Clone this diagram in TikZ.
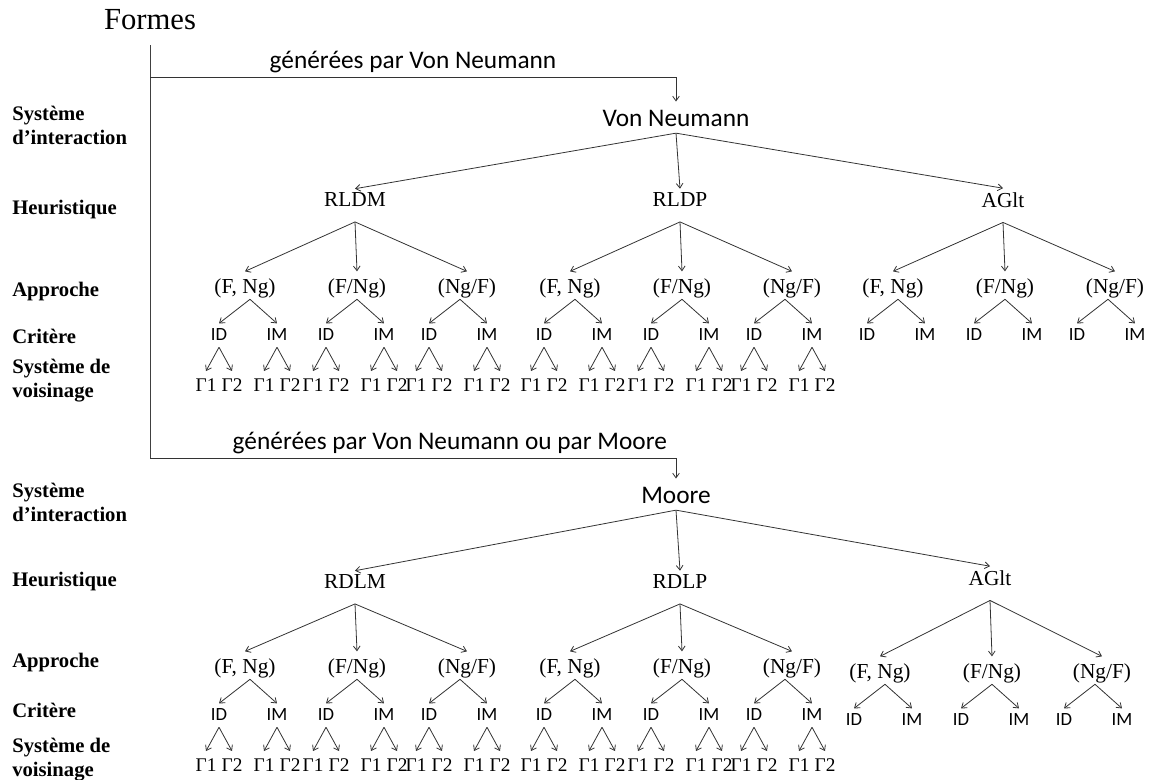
\documentclass[tikz,border=0pt]{standalone}
\usepackage{fontspec}
\setmainfont{Liberation Serif}
\newfontfamily\calibri{Carlito}
\usetikzlibrary{arrows.meta, positioning}

% une heuristique et tout son sous-arbre
% #1 nom, #2 racine, #3 x, #4 y, #5 texte, #6 avec Gamma (1/0), #7 y des approches
\newcommand{\branche}[7]{%
  \node[heur] (#1) at (#3,#4) {#5};
  \draw[arr] ([yshift=-4pt]#2.south) -- ([yshift=2pt]#1.north);
  \foreach \j/\ax/\an/\dx in {1/-110/{(F, Ng)}/5, 2/2/{(F/Ng)}/0, 3/112/{(Ng/F)}/-7}{
    \node[appr] (#1-\j) at ({#3+\ax},#7) {\an};
    \draw[arr] ([yshift=-10pt]#1.south) -- ([yshift=4pt]#1-\j.north);
    \foreach \k/\cx/\cn in {1/-31/ID, 2/27/IM}{
      \node[crit] (#1-\j-\k) at ({#3+\ax+\dx+\cx},{#7+47}) {\cn};
      \draw[arr] ([xshift=\dx*0.75pt]#1-\j.south) -- ([yshift=3pt]#1-\j-\k.north);
      \ifnum#6=1\relax
        \node[gam] (#1-\j-\k-g1) at ({#3+\ax+\dx+\cx-13},{#7+97}) {Γ1};
        \node[gam] (#1-\j-\k-g2) at ({#3+\ax+\dx+\cx+13},{#7+97}) {Γ2};
        \draw[arr] ([yshift=-3.5pt]#1-\j-\k.south) -- ([yshift=4.5pt]#1-\j-\k-g1.north);
        \draw[arr] ([yshift=-3.5pt]#1-\j-\k.south) -- ([yshift=4.5pt]#1-\j-\k-g2.north);
      \fi
    }
  }
}

\begin{document}
\begin{tikzpicture}[x=0.75pt, y=-0.75pt,
    arr/.style={draw=black!80, line width=0.6pt, -{Straight Barb[length=3.5pt,width=5pt]}},
    tronc/.style={draw=black!75, line width=0.7pt},
    titre/.style={font=\fontsize{23}{27}\selectfont, inner sep=2pt},
    niveau/.style={anchor=west, align=left, inner sep=0pt, font=\bfseries\fontsize{15.5}{18}\selectfont},
    voisin/.style={font=\calibri\fontsize{19}{22}\selectfont, inner sep=1pt},
    heur/.style={font=\fontsize{16}{18}\selectfont, inner sep=1pt},
    appr/.style={font=\fontsize{16}{18}\selectfont, inner sep=1pt},
    crit/.style={font=\calibri\fontsize{14}{16}\selectfont, inner sep=1pt},
    gam/.style={font=\fontsize{14.5}{16}\selectfont, inner sep=1pt}
]
\useasboundingbox (0,0) rectangle (1154,780);

% niveaux (colonne de gauche)
\foreach \y/\txt in {125/{Système\\d’interaction}, 210/Heuristique, 292/Approche, 336/Critère, 381/{Système de\\voisinage},
                     502/{Système\\d’interaction}, 582/Heuristique, 663/Approche, 710/Critère, 760/{Système de\\voisinage}}
  \node[niveau] (niv-\y) at (12,\y) {\txt};

% tronc
\node[titre] (formes) at (150,20) {Formes};
\coordinate (k1) at (150,77);
\coordinate (k2) at (150,458);
\draw[tronc] ([yshift=-9pt]formes.south) -- (k2);

\node[voisin] (vn) at (676,118) {Von Neumann};
\node[voisin] (mo) at (676,495) {Moore};
\draw[tronc, arr] (k1) -- node[voisin, above, inner sep=3pt] {générées par Von Neumann} (k1 -| vn) -- ([yshift=5pt]vn.north);
\draw[tronc, arr] (k2) -- node[voisin, above, pos=0.57, inner sep=3pt] {générées par Von Neumann ou par Moore} (k2 -| mo) -- ([yshift=5pt]mo.north);

% arbre Von Neumann
\branche{vn-1}{vn}{355}{200}{RLDM}{1}{288}
\branche{vn-2}{vn}{680}{200}{RLDP}{1}{288}
\branche{vn-3}{vn}{1003}{200}{AGlt}{0}{288}

% arbre Moore
\branche{mo-1}{mo}{355}{582}{RDLM}{1}{668}
\branche{mo-2}{mo}{680}{582}{RDLP}{1}{668}
\branche{mo-3}{mo}{990}{578}{AGlt}{0}{673}
\end{tikzpicture}
\end{document}
